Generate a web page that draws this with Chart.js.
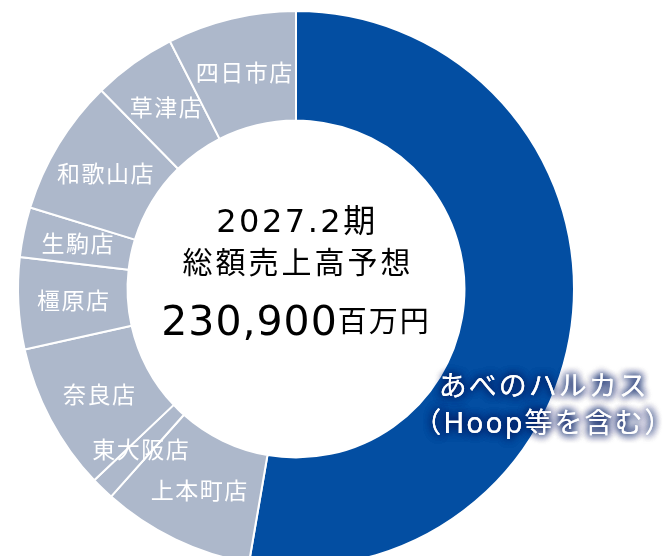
<!DOCTYPE html>
<html>
<head>
<meta charset="utf-8">
<script src="https://cdn.jsdelivr.net/npm/chart.js@4.4.1/dist/chart.umd.min.js"></script>
<style>
    html, body { margin: 0; padding: 0; background: #fff; overflow: hidden; width: 665px; height: 556px; }
    #chart-wrap { position: absolute; left: 0; top: 0; width: 665px; height: 570px; }
</style>
</head>
<body>
<div id="chart-wrap"><canvas id="sales-chart" width="665" height="570"></canvas></div>
<script>
// 店舗別 売上高予想（百万円）
const stores = ['あべのハルカス', '上本町店', '東大阪店', '奈良店', '橿原店', '生駒店', '和歌山店', '草津店', '四日市店'];
const sales = [121700, 20500, 3100, 19800, 12300, 6700, 18300, 11200, 17300];
const mainLabel = ['あべのハルカス', '（Hoop等を含む）'];
const centerTitle = ['2027.2期', '総額売上高予想'];
const centerTotal = '230,900';
const centerUnit = '百万円';

const BLUE = '#034ea2';
const GREY = '#adb8cb';
const LATIN = '"DejaVu Sans", "Noto Sans CJK JP", sans-serif';
const CJK = '"Noto Sans CJK JP", sans-serif';

function setSpacing(ctx, px) {
    if ('letterSpacing' in ctx) ctx.letterSpacing = px + 'px';
}

const labelPlugin = {
    id: 'sliceLabels',
    afterDatasetsDraw(chart) {
        const ctx = chart.ctx;
        const arcs = chart.getDatasetMeta(0).data;
        const cx = arcs[0].x;
        const cy = arcs[0].y;
        const R = arcs[0].outerRadius;

        ctx.save();
        ctx.textAlign = 'center';
        ctx.textBaseline = 'middle';

        // store names inside the grey slices
        ctx.fillStyle = '#ffffff';
        ctx.font = '23px ' + CJK;
        setSpacing(ctx, 1.5);
        arcs.forEach((arc, i) => {
            if (i === 0) return;
            const p = arc.tooltipPosition();
            ctx.fillText(stores[i], p.x + 0.75, p.y);
        });

        // main store label with glow
        ctx.font = '28px ' + LATIN;
        setSpacing(ctx, 2);
        const lx = cx + R * 0.888;
        const ly = cy + R * 0.36;
        ctx.shadowColor = 'rgba(5, 30, 100, 1)';
        ctx.shadowBlur = 8;
        for (let k = 0; k < 3; k++) {
            ctx.fillText(mainLabel[0], lx + 1, ly);
            ctx.fillText(mainLabel[1], lx + 1, ly + 37);
        }
        ctx.shadowBlur = 0;
        ctx.shadowColor = 'transparent';

        // centre text
        ctx.fillStyle = '#000000';
        ctx.textBaseline = 'alphabetic';
        ctx.font = '32px ' + LATIN;
        setSpacing(ctx, 2.5);
        ctx.fillText(centerTitle[0], cx + 1, cy - 57);
        ctx.font = '30px ' + CJK;
        setSpacing(ctx, 3);
        ctx.fillText(centerTitle[1], cx + 2, cy - 16);

        ctx.textAlign = 'left';
        ctx.font = '41px ' + LATIN;
        setSpacing(ctx, 1);
        const wNum = ctx.measureText(centerTotal).width;
        ctx.font = '29px ' + CJK;
        setSpacing(ctx, 2);
        const wUnit = ctx.measureText(centerUnit).width;
        const x0 = cx - (wNum + wUnit) / 2;
        ctx.font = '41px ' + LATIN;
        setSpacing(ctx, 1);
        ctx.fillText(centerTotal, x0, cy + 46);
        ctx.font = '29px ' + CJK;
        setSpacing(ctx, 2);
        ctx.fillText(centerUnit, x0 + wNum, cy + 43);

        ctx.restore();
    }
};

const salesChart = new Chart(document.getElementById('sales-chart').getContext('2d'), {
    type: 'doughnut',
    data: {
        labels: stores,
        datasets: [{
            data: sales,
            backgroundColor: stores.map((s, i) => i === 0 ? BLUE : GREY),
            borderColor: '#ffffff',
            borderWidth: 2
        }]
    },
    options: {
        responsive: false,
        animation: false,
        cutout: '60.6%',
        layout: { padding: { left: 17, right: 90, top: 10, bottom: 2 } },
        plugins: {
            legend: { display: false },
            tooltip: { enabled: false }
        }
    },
    plugins: [labelPlugin]
});
</script>
</body>
</html>
